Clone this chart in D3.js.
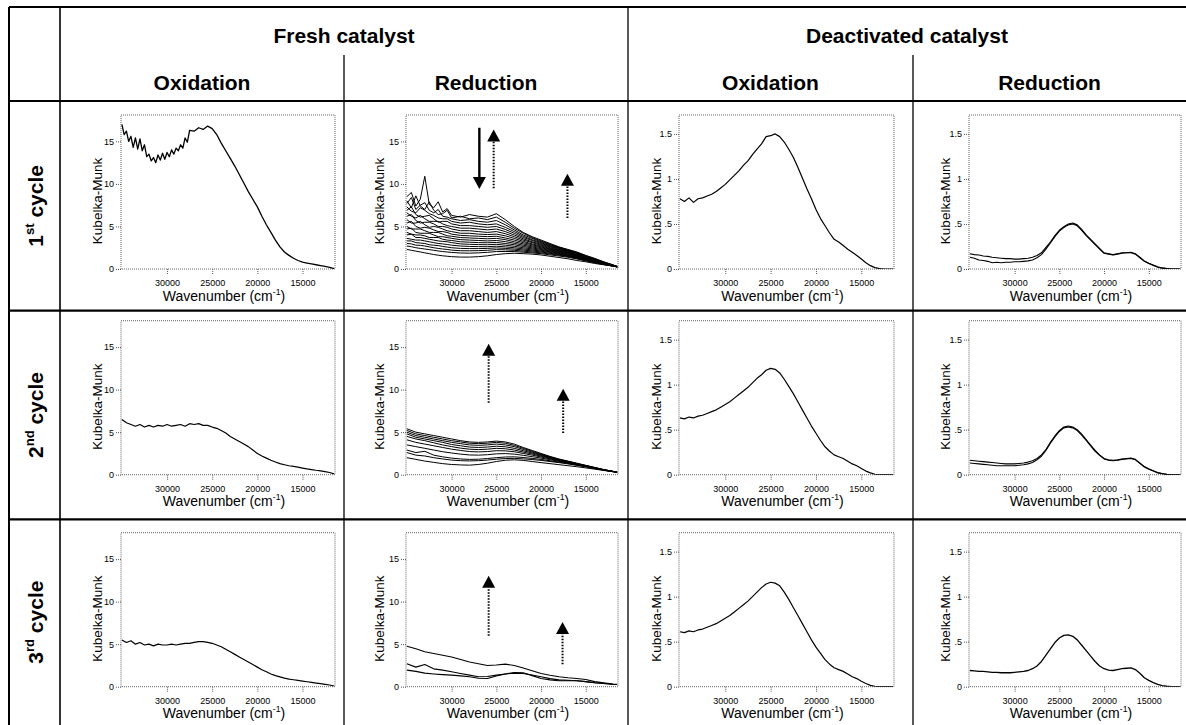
<!DOCTYPE html>
<html>
<head>
<meta charset="utf-8">
<script src="https://cdn.jsdelivr.net/npm/d3@7"></script>
<style>
  body { margin: 0; background: #fff; }
  text { font-family: Arial, "Liberation Sans", sans-serif; white-space: pre; }
</style>
</head>
<body>
<svg id="chart" width="1186" height="725"></svg>
<script>
// ---- labels ----
var groupLabels = ["Fresh catalyst", "Deactivated catalyst"];
var colLabels = ["Oxidation", "Reduction", "Oxidation", "Reduction"];
var rowLabels = [["1", "st", " cycle"], ["2", "nd", " cycle"], ["3", "rd", " cycle"]];
var kmTicksFresh = [0, 5, 10, 15];
var kmTicksDeact = [0, 0.5, 1, 1.5];
var wnTicks = [30000, 25000, 20000, 15000];

// ---- wavenumber grids (cm-1) ----
var waveFine = [35000, 34500, 34000, 33500, 33000, 32500, 32000, 31500, 31000, 30500,
  30000, 29500, 29000, 28500, 28000, 27500, 27000, 26500, 26000, 25500,
  25000, 24500, 24000, 23500, 23000, 22500, 22000, 21500, 21000, 20500,
  20000, 19500, 19000, 18500, 18000, 17500, 17000, 16500, 16000, 15500,
  15000, 14500, 14000, 13500, 13000, 12500, 12000, 11500];
var waveCoarse = [35000, 34000, 33000, 32000, 31000, 30000, 29000, 28000, 27000, 26000,
  25000, 24000, 23000, 22000, 21000, 20000, 19000, 18000, 17000, 16000,
  15000, 14000, 13000, 12000, 11500];
// finer steps where the first spectra are noisy
var waveNoisyOx = [35000, 34750, 34500, 34250, 34000, 33750, 33500, 33250, 33000, 32750,
  32500, 32250, 32000, 31750, 31500, 31250, 31000, 30750, 30500, 30250,
  30000, 29750, 29500, 29250, 29000, 28750, 28500, 28250, 28000, 27750, 27500,
  27000, 26500, 26000, 25500, 25000, 24500, 24000, 23500, 23000, 22500,
  22000, 21500, 21000, 20500, 20000, 19500, 19000, 18500, 18000, 17500,
  17000, 16500, 16000, 15500, 15000, 14500, 14000, 13500, 13000, 12500,
  12000, 11500];
var waveNoisyRed = [35000, 34500, 34000, 33500, 33000, 32500, 32000, 31500, 31000, 30500,
  30000, 29000, 28000, 27000, 26000, 25000, 24000, 23000, 22000, 21000,
  20000, 19000, 18000, 17000, 16000, 15000, 14000, 13000, 12000, 11500];

// ---- fresh catalyst, oxidation ----
var oxFresh1 = [17.0, 15.8, 16.2, 15.0, 15.6, 14.3, 15.4, 14.1, 15.3, 13.9,
  14.6, 13.2, 13.5, 12.7, 13.1, 12.5, 13.4, 12.8, 13.6, 12.9,
  13.7, 13.2, 14.0, 13.5, 14.2, 13.9, 14.6, 14.2, 15.4, 14.9, 16.3,
  16.2, 16.6, 16.4, 16.8, 16.5, 15.8, 14.8, 13.9, 13.0, 12.1,
  11.1, 10.1, 9.1, 8.2, 7.3, 6.2, 5.2, 4.3, 3.4, 2.6,
  2.0, 1.6, 1.26, 1.0, 0.8, 0.7, 0.6, 0.5, 0.4, 0.3,
  0.2, 0.05];
var oxFresh2 = [6.5, 6.1, 5.9, 5.7, 5.9, 5.6, 5.8, 5.6, 5.8, 5.7,
  5.9, 5.7, 5.8, 5.9, 5.7, 6.0, 5.9, 6.0, 5.8, 5.8,
  5.6, 5.45, 5.2, 4.9, 4.5, 4.2, 3.9, 3.6, 3.3, 2.9,
  2.5, 2.2, 1.95, 1.7, 1.5, 1.3, 1.17, 1.05, 0.97, 0.88,
  0.78, 0.68, 0.6, 0.52, 0.46, 0.36, 0.26, 0.1];
var oxFresh3 = [5.5, 5.2, 5.4, 5.0, 5.2, 4.9, 5.0, 4.8, 5.0, 4.9,
  4.9, 5.0, 4.9, 5.0, 5.1, 5.1, 5.2, 5.3, 5.3, 5.2,
  5.1, 4.9, 4.7, 4.4, 4.1, 3.8, 3.5, 3.2, 2.9, 2.6,
  2.3, 2.0, 1.75, 1.5, 1.3, 1.15, 1.0, 0.9, 0.82, 0.74,
  0.66, 0.58, 0.5, 0.43, 0.36, 0.28, 0.2, 0.08];

// ---- fresh catalyst, reduction: one array per spectrum ----
// cycle 1 on waveNoisyRed
var redFresh1 = [
  [8.5, 9.0, 7.4, 8.2, 10.9, 7.6, 7.2, 7.9, 6.7, 7.1, 6.3, 6.1, 6.4, 6.2, 6.1, 6.5, 5.8, 5.0, 4.3, 3.8, 3.4, 3.0, 2.6, 2.3, 2.0, 1.6, 1.25, 0.85, 0.5, 0.3],
  [8.0, 7.2, 8.6, 7.4, 7.0, 7.9, 6.9, 6.4, 6.5, 6.9, 6.0, 6.2, 5.9, 6.0, 5.8, 6.1, 5.5, 4.8, 4.2, 3.7, 3.3, 2.9, 2.55, 2.25, 1.95, 1.55, 1.2, 0.82, 0.48, 0.3],
  [7.7, 8.4, 7.0, 7.5, 7.8, 6.9, 6.6, 7.0, 6.2, 6.1, 5.9, 5.7, 5.8, 5.6, 5.5, 5.7, 5.2, 4.6, 4.0, 3.6, 3.2, 2.85, 2.5, 2.2, 1.9, 1.5, 1.17, 0.8, 0.47, 0.3],
  [7.3, 6.8, 6.6, 7.2, 6.9, 6.5, 6.3, 6.0, 5.9, 5.9, 5.6, 5.4, 5.5, 5.3, 5.2, 5.3, 4.9, 4.4, 3.85, 3.45, 3.1, 2.75, 2.45, 2.15, 1.85, 1.47, 1.13, 0.78, 0.46, 0.29],
  [6.9, 7.3, 6.4, 6.1, 6.2, 6.3, 5.9, 5.5, 5.6, 5.6, 5.3, 5.1, 5.1, 5.0, 4.9, 5.0, 4.65, 4.2, 3.7, 3.35, 3.0, 2.68, 2.38, 2.1, 1.8, 1.43, 1.1, 0.76, 0.45, 0.29],
  [6.6, 6.2, 6.0, 6.3, 5.9, 5.6, 5.6, 5.6, 5.3, 5.1, 5.0, 4.8, 4.8, 4.7, 4.6, 4.7, 4.4, 4.0, 3.55, 3.2, 2.9, 2.6, 2.3, 2.05, 1.75, 1.4, 1.07, 0.74, 0.44, 0.28],
  [6.2, 6.4, 5.7, 5.4, 5.5, 5.5, 5.3, 5.0, 5.0, 4.9, 4.7, 4.5, 4.5, 4.4, 4.3, 4.4, 4.15, 3.8, 3.4, 3.1, 2.8, 2.5, 2.23, 2.0, 1.7, 1.36, 1.04, 0.72, 0.43, 0.28],
  [5.8, 5.4, 5.4, 5.6, 5.2, 4.9, 5.0, 4.9, 4.7, 4.5, 4.4, 4.2, 4.2, 4.1, 4.05, 4.1, 3.9, 3.6, 3.25, 2.95, 2.7, 2.42, 2.16, 1.94, 1.65, 1.32, 1.01, 0.7, 0.42, 0.27],
  [5.4, 5.6, 5.0, 4.8, 4.9, 4.8, 4.6, 4.4, 4.4, 4.3, 4.1, 3.95, 3.9, 3.85, 3.8, 3.85, 3.65, 3.4, 3.1, 2.85, 2.6, 2.34, 2.1, 1.88, 1.6, 1.28, 0.98, 0.68, 0.41, 0.27],
  [5.0, 4.7, 4.7, 4.7, 4.5, 4.3, 4.3, 4.3, 4.1, 3.9, 3.85, 3.7, 3.65, 3.6, 3.55, 3.6, 3.45, 3.2, 2.95, 2.72, 2.5, 2.26, 2.03, 1.82, 1.55, 1.24, 0.95, 0.66, 0.4, 0.27],
  [4.7, 4.8, 4.3, 4.2, 4.2, 4.2, 4.0, 3.8, 3.8, 3.7, 3.6, 3.45, 3.4, 3.35, 3.3, 3.35, 3.22, 3.02, 2.8, 2.6, 2.4, 2.18, 1.96, 1.76, 1.5, 1.2, 0.92, 0.64, 0.39, 0.26],
  [4.3, 4.1, 4.0, 4.0, 3.9, 3.7, 3.7, 3.7, 3.5, 3.4, 3.35, 3.2, 3.15, 3.1, 3.08, 3.12, 3.0, 2.85, 2.65, 2.48, 2.3, 2.1, 1.9, 1.7, 1.45, 1.16, 0.89, 0.62, 0.38, 0.26],
  [4.0, 4.1, 3.7, 3.7, 3.6, 3.5, 3.4, 3.3, 3.25, 3.2, 3.1, 2.95, 2.9, 2.87, 2.85, 2.9, 2.8, 2.67, 2.5, 2.36, 2.2, 2.02, 1.83, 1.64, 1.4, 1.12, 0.86, 0.6, 0.37, 0.26],
  [3.6, 3.5, 3.4, 3.4, 3.3, 3.2, 3.1, 3.0, 2.95, 2.88, 2.8, 2.7, 2.65, 2.63, 2.62, 2.68, 2.6, 2.5, 2.36, 2.24, 2.1, 1.94, 1.76, 1.58, 1.35, 1.08, 0.83, 0.58, 0.36, 0.25],
  [3.3, 3.3, 3.1, 3.05, 3.0, 2.85, 2.8, 2.75, 2.65, 2.58, 2.5, 2.42, 2.4, 2.4, 2.42, 2.48, 2.42, 2.34, 2.23, 2.12, 2.0, 1.85, 1.69, 1.52, 1.3, 1.04, 0.8, 0.56, 0.36, 0.25],
  [3.0, 2.95, 2.8, 2.78, 2.7, 2.6, 2.5, 2.42, 2.35, 2.3, 2.22, 2.15, 2.14, 2.16, 2.2, 2.28, 2.25, 2.2, 2.1, 2.0, 1.9, 1.76, 1.62, 1.46, 1.25, 1.0, 0.77, 0.54, 0.35, 0.25],
  [2.7, 2.62, 2.5, 2.42, 2.35, 2.28, 2.2, 2.12, 2.05, 2.0, 1.95, 1.88, 1.86, 1.9, 1.96, 2.05, 2.06, 2.05, 1.97, 1.89, 1.8, 1.66, 1.53, 1.38, 1.18, 0.95, 0.73, 0.52, 0.35, 0.25],
  [2.3, 2.2, 2.1, 2.0, 1.9, 1.8, 1.7, 1.62, 1.55, 1.5, 1.45, 1.4, 1.4, 1.45, 1.55, 1.7, 1.8, 1.85, 1.8, 1.75, 1.65, 1.5, 1.35, 1.2, 1.0, 0.85, 0.65, 0.5, 0.35, 0.25]
];
// cycles 2 and 3 on waveCoarse
var redFresh2 = [
  [5.4, 5.0, 4.8, 4.6, 4.4, 4.2, 4.0, 3.85, 3.8, 3.85, 3.95, 3.85, 3.6, 3.2, 2.85, 2.5, 2.15, 1.85, 1.6, 1.35, 1.1, 0.85, 0.6, 0.4, 0.3],
  [5.2, 4.8, 4.6, 4.4, 4.2, 4.0, 3.85, 3.7, 3.65, 3.7, 3.8, 3.7, 3.45, 3.1, 2.75, 2.42, 2.1, 1.8, 1.57, 1.32, 1.08, 0.84, 0.6, 0.4, 0.3],
  [5.0, 4.6, 4.4, 4.2, 4.0, 3.8, 3.65, 3.5, 3.45, 3.5, 3.6, 3.5, 3.3, 2.97, 2.65, 2.35, 2.05, 1.76, 1.54, 1.3, 1.06, 0.82, 0.59, 0.39, 0.3],
  [4.8, 4.4, 4.2, 4.0, 3.8, 3.55, 3.4, 3.25, 3.2, 3.25, 3.35, 3.28, 3.1, 2.82, 2.55, 2.27, 2.0, 1.72, 1.5, 1.27, 1.04, 0.8, 0.58, 0.39, 0.3],
  [4.5, 4.2, 4.0, 3.75, 3.5, 3.3, 3.12, 3.0, 2.95, 3.0, 3.1, 3.05, 2.9, 2.66, 2.43, 2.18, 1.93, 1.68, 1.47, 1.24, 1.02, 0.79, 0.57, 0.38, 0.3],
  [4.1, 3.8, 3.6, 3.4, 3.2, 3.0, 2.85, 2.72, 2.68, 2.72, 2.82, 2.8, 2.7, 2.5, 2.3, 2.08, 1.86, 1.63, 1.43, 1.21, 1.0, 0.78, 0.56, 0.38, 0.3],
  [3.5, 3.3, 3.1, 2.9, 2.7, 2.55, 2.42, 2.32, 2.3, 2.35, 2.45, 2.48, 2.42, 2.28, 2.12, 1.95, 1.76, 1.56, 1.38, 1.17, 0.97, 0.76, 0.55, 0.37, 0.3],
  [2.9, 2.6, 2.75, 2.3, 2.1, 1.95, 1.85, 1.8, 1.82, 1.9, 2.0, 2.08, 2.1, 2.02, 1.92, 1.8, 1.64, 1.48, 1.32, 1.13, 0.94, 0.74, 0.54, 0.37, 0.3],
  [2.6, 2.3, 2.2, 2.0, 1.85, 1.72, 1.65, 1.62, 1.65, 1.72, 1.82, 1.9, 1.92, 1.86, 1.78, 1.68, 1.55, 1.42, 1.27, 1.1, 0.92, 0.73, 0.53, 0.36, 0.3],
  [2.0, 1.8, 1.6, 1.45, 1.3, 1.2, 1.15, 1.12, 1.2, 1.35, 1.55, 1.7, 1.75, 1.68, 1.55, 1.42, 1.3, 1.18, 1.06, 0.94, 0.8, 0.65, 0.5, 0.35, 0.3]
];
var redFresh3 = [
  [4.75, 4.45, 4.1, 3.9, 3.7, 3.5, 3.2, 2.9, 2.7, 2.5, 2.55, 2.65, 2.5, 2.2, 1.87, 1.56, 1.35, 1.17, 1.05, 0.97, 0.85, 0.6, 0.45, 0.32, 0.28],
  [2.7, 2.3, 2.6, 2.1, 1.95, 1.75, 1.55, 1.36, 1.17, 1.2, 1.36, 1.5, 1.6, 1.56, 1.38, 1.17, 0.95, 0.8, 0.75, 0.7, 0.6, 0.47, 0.38, 0.28, 0.25],
  [1.95, 1.8, 1.6, 1.5, 1.42, 1.36, 1.27, 1.17, 1.0, 0.97, 1.25, 1.5, 1.67, 1.63, 1.3, 0.97, 0.8, 0.7, 0.7, 0.7, 0.6, 0.47, 0.38, 0.28, 0.25]
];

// ---- deactivated catalyst (on waveFine) ----
var oxDeact1 = [0.78, 0.75, 0.79, 0.74, 0.78, 0.79, 0.81, 0.83, 0.86, 0.9,
  0.94, 0.99, 1.04, 1.09, 1.15, 1.2, 1.27, 1.33, 1.39, 1.47,
  1.48, 1.5, 1.47, 1.41, 1.33, 1.24, 1.13, 1.01, 0.89, 0.78,
  0.66, 0.56, 0.48, 0.4, 0.33, 0.3, 0.26, 0.22, 0.185, 0.15,
  0.11, 0.07, 0.037, 0.015, 0.005, 0, 0, 0];
var oxDeact2 = [0.63, 0.62, 0.64, 0.63, 0.65, 0.66, 0.68, 0.7, 0.72, 0.75,
  0.78, 0.81, 0.85, 0.89, 0.93, 0.97, 1.02, 1.07, 1.11, 1.16,
  1.18, 1.17, 1.13, 1.06, 0.98, 0.9, 0.81, 0.72, 0.63, 0.54,
  0.46, 0.38, 0.31, 0.26, 0.22, 0.2, 0.18, 0.15, 0.12, 0.1,
  0.07, 0.04, 0.02, 0.005, 0, 0, 0, 0];
var oxDeact3 = [0.61, 0.6, 0.62, 0.61, 0.63, 0.64, 0.66, 0.68, 0.7, 0.73,
  0.76, 0.79, 0.83, 0.87, 0.91, 0.95, 1.0, 1.05, 1.1, 1.14,
  1.16, 1.15, 1.12, 1.05, 0.97, 0.88, 0.79, 0.7, 0.61, 0.52,
  0.44, 0.37, 0.3, 0.25, 0.21, 0.19, 0.17, 0.14, 0.11, 0.09,
  0.06, 0.035, 0.015, 0.005, 0, 0, 0, 0];
var redDeact1 = [
  [0.17, 0.16, 0.155, 0.145, 0.14, 0.13, 0.125, 0.12, 0.115, 0.115,
   0.11, 0.11, 0.115, 0.12, 0.13, 0.15, 0.18, 0.24, 0.3, 0.37,
   0.43, 0.47, 0.5, 0.51, 0.49, 0.44, 0.38, 0.33, 0.28, 0.23,
   0.18, 0.17, 0.16, 0.17, 0.18, 0.18, 0.185, 0.17, 0.13, 0.09,
   0.065, 0.045, 0.025, 0.012, 0.005, 0, 0, 0],
  [0.13, 0.12, 0.1, 0.095, 0.085, 0.07, 0.075, 0.07, 0.075, 0.075,
   0.08, 0.08, 0.085, 0.09, 0.1, 0.125, 0.16, 0.22, 0.29, 0.36,
   0.42, 0.46, 0.49, 0.5, 0.48, 0.43, 0.37, 0.32, 0.27, 0.22,
   0.175, 0.165, 0.155, 0.165, 0.175, 0.18, 0.18, 0.165, 0.125, 0.085,
   0.06, 0.04, 0.02, 0.01, 0.004, 0, 0, 0]
];
var redDeact2 = [
  [0.16, 0.155, 0.15, 0.145, 0.14, 0.135, 0.13, 0.125, 0.12, 0.12,
   0.12, 0.125, 0.13, 0.14, 0.155, 0.18, 0.22, 0.28, 0.36, 0.43,
   0.49, 0.53, 0.54, 0.53, 0.5, 0.45, 0.39, 0.33, 0.27, 0.22,
   0.18, 0.165, 0.16, 0.165, 0.175, 0.18, 0.185, 0.17, 0.13, 0.09,
   0.065, 0.045, 0.025, 0.012, 0.005, 0, 0, 0],
  [0.13, 0.125, 0.12, 0.115, 0.11, 0.105, 0.1, 0.1, 0.1, 0.1,
   0.1, 0.105, 0.11, 0.12, 0.135, 0.165, 0.205, 0.27, 0.35, 0.42,
   0.48, 0.52, 0.53, 0.52, 0.49, 0.44, 0.38, 0.32, 0.26, 0.215,
   0.175, 0.16, 0.155, 0.16, 0.17, 0.175, 0.18, 0.165, 0.125, 0.085,
   0.06, 0.04, 0.02, 0.01, 0.004, 0, 0, 0]
];
var redDeact3 = [
  [0.18, 0.175, 0.17, 0.17, 0.165, 0.16, 0.16, 0.155, 0.155, 0.155,
   0.16, 0.165, 0.17, 0.18, 0.2, 0.23, 0.28, 0.35, 0.42, 0.49,
   0.54, 0.57, 0.575, 0.56, 0.52, 0.46, 0.4, 0.34, 0.28, 0.23,
   0.2, 0.185, 0.18, 0.19, 0.2, 0.205, 0.21, 0.19, 0.15, 0.1,
   0.07, 0.045, 0.025, 0.012, 0.005, 0, 0, 0]
];

// arrows drawn in the reduction panels: [wavenumber, from K-M, to K-M, dotted]
var arrowsRed1 = [[26900, 16.6, 9.4, false], [25300, 9.5, 16.4, true], [17050, 6.0, 11.2, true]];
var arrowsRed2 = [[25860, 8.45, 15.4, true], [17530, 4.9, 10.1, true]];
var arrowsRed3 = [[25860, 6.0, 13.05, true], [17600, 2.65, 7.6, true]];

// ---- layout ----
var svg = d3.select("#chart");
var W = 1186, H = 725;
var colX = [9, 60, 344, 628, 913, W];
var rowY = [7, 101, 310.7, 519.3, H];
var plotLeft = [121, 406, 679, 969];
var plotWidth = [214, 212, 215, 212];
var plotTop = [115, 320.7, 532.7];
var plotH = 154;
var ylabOffset = [-19.5, -22, -18, -19];
var wnDomain = [35100, 11400];

// table lines
var grid = svg.append("g").attr("stroke", "#000").attr("fill", "none");
function seg(x1, y1, x2, y2, w) {
    grid.append("line").attr("x1", x1).attr("y1", y1).attr("x2", x2).attr("y2", y2)
        .attr("stroke-width", w);
}
seg(colX[0], rowY[0], W, rowY[0], 2);
seg(colX[0], rowY[0], colX[0], H, 2);
seg(colX[1], rowY[0], colX[1], H, 1.6);
seg(colX[3], rowY[0], colX[3], H, 1.3);
seg(colX[2], 55, colX[2], H, 1.3);
seg(colX[4], 55, colX[4], H, 1.3);
[rowY[1], rowY[2], rowY[3]].forEach(function (y) { seg(colX[0], y, W, y, 2.2); });

// headers
svg.append("text").attr("x", (colX[1] + colX[3]) / 2).attr("y", 42.5)
    .attr("text-anchor", "middle").attr("font-weight", "bold").attr("font-size", 21)
    .text(groupLabels[0]);
svg.append("text").attr("x", (colX[3] + colX[5]) / 2).attr("y", 42.5)
    .attr("text-anchor", "middle").attr("font-weight", "bold").attr("font-size", 21)
    .text(groupLabels[1]);
colLabels.forEach(function (t, i) {
    svg.append("text").attr("x", (colX[i + 1] + colX[i + 2]) / 2).attr("y", 89.5)
        .attr("text-anchor", "middle").attr("font-weight", "bold").attr("font-size", 21)
        .text(t);
});

function supText(sel, base, sup, rest, size) {
    sel.append("tspan").text(base);
    sel.append("tspan").text(sup).attr("font-size", size * 0.62).attr("dy", -size * 0.42);
    sel.append("tspan").text(rest).attr("dy", size * 0.42);
}

rowLabels.forEach(function (r, i) {
    var cy = (rowY[i + 1] + rowY[i + 2]) / 2;
    var t = svg.append("text")
        .attr("transform", "translate(43," + cy + ") rotate(-90)")
        .attr("text-anchor", "middle").attr("font-weight", "bold").attr("font-size", 21);
    supText(t, r[0], r[1], r[2], 21);
});

// ---- panels ----
function kmFormat(d) { return String(d).replace(/^0\./, "."); }

var panels = [
    { row: 0, col: 0, yMax: 18.1, ticks: kmTicksFresh, wave: waveNoisyOx, series: [oxFresh1], sw: 1.3 },
    { row: 0, col: 1, yMax: 18.1, ticks: kmTicksFresh, wave: waveNoisyRed, series: redFresh1, sw: 1, arrows: arrowsRed1 },
    { row: 0, col: 2, yMax: 1.71, ticks: kmTicksDeact, wave: waveFine, series: [oxDeact1], sw: 1.2 },
    { row: 0, col: 3, yMax: 1.71, ticks: kmTicksDeact, wave: waveFine, series: redDeact1, sw: 1.1 },
    { row: 1, col: 0, yMax: 18.1, ticks: kmTicksFresh, wave: waveFine, series: [oxFresh2], sw: 1.2 },
    { row: 1, col: 1, yMax: 18.1, ticks: kmTicksFresh, wave: waveCoarse, series: redFresh2, sw: 1, arrows: arrowsRed2 },
    { row: 1, col: 2, yMax: 1.71, ticks: kmTicksDeact, wave: waveFine, series: [oxDeact2], sw: 1.2 },
    { row: 1, col: 3, yMax: 1.71, ticks: kmTicksDeact, wave: waveFine, series: redDeact2, sw: 1.1 },
    { row: 2, col: 0, yMax: 18.1, ticks: kmTicksFresh, wave: waveFine, series: [oxFresh3], sw: 1.2 },
    { row: 2, col: 1, yMax: 18.1, ticks: kmTicksFresh, wave: waveCoarse, series: redFresh3, sw: 1.1, arrows: arrowsRed3 },
    { row: 2, col: 2, yMax: 1.71, ticks: kmTicksDeact, wave: waveFine, series: [oxDeact3], sw: 1.2 },
    { row: 2, col: 3, yMax: 1.71, ticks: kmTicksDeact, wave: waveFine, series: redDeact3, sw: 1.3 }
];

panels.forEach(function (p, k) {
    var w = plotWidth[p.col];
    var x = d3.scaleLinear().domain(wnDomain).range([0, w]);
    var y = d3.scaleLinear().domain([0, p.yMax]).range([plotH, 0]);
    var g = svg.append("g")
        .attr("transform", "translate(" + plotLeft[p.col] + "," + plotTop[p.row] + ")");

    g.append("clipPath").attr("id", "clip" + k)
        .append("rect").attr("width", w).attr("height", plotH);

    // y axis
    var ya = g.append("g").call(d3.axisLeft(y).tickValues(p.ticks).tickSize(5)
        .tickPadding(2).tickFormat(kmFormat));
    // x axis
    var xa = g.append("g").attr("transform", "translate(0," + plotH + ")")
        .call(d3.axisBottom(x).tickValues(wnTicks).tickSize(5).tickPadding(6)
            .tickFormat(d3.format("d")));
    [ya, xa].forEach(function (a) {
        a.select(".domain").remove();
        a.selectAll(".tick line").attr("stroke", "#555").attr("stroke-dasharray", "1,1");
        a.selectAll(".tick text").attr("font-size", 9).attr("fill", "#000")
            .attr("font-family", "Arial, 'Liberation Sans', sans-serif");
    });

    // dotted frame
    g.append("rect").attr("width", w).attr("height", plotH)
        .attr("fill", "none").attr("stroke", "#666").attr("stroke-width", 1)
        .attr("stroke-dasharray", "1,1");

    // spectra
    var line = d3.line()
        .x(function (d, i) { return x(p.wave[i]); })
        .y(function (d) { return y(d); });
    g.append("g").attr("clip-path", "url(#clip" + k + ")")
        .selectAll("path").data(p.series).enter().append("path")
        .attr("d", line).attr("fill", "none").attr("stroke", "#000")
        .attr("stroke-width", p.sw).attr("stroke-linejoin", "round");

    // arrows
    (p.arrows || []).forEach(function (a) {
        var ax = x(a[0]), y0 = y(a[1]), y1 = y(a[2]);
        var dir = y1 < y0 ? 1 : -1;   // 1: pointing up
        var headH = 12, headW = 13;
        var base = y1 + dir * headH;
        g.append("line").attr("x1", ax).attr("x2", ax).attr("y1", y0).attr("y2", base)
            .attr("stroke", "#000").attr("stroke-width", a[3] ? 2 : 2.4)
            .attr("stroke-dasharray", a[3] ? "1.5,1.5" : null);
        g.append("path")
            .attr("d", "M" + (ax - headW / 2) + "," + base + "L" + (ax + headW / 2) + "," + base +
                "L" + ax + "," + y1 + "Z")
            .attr("fill", "#000");
    });

    // axis titles
    g.append("text")
        .attr("transform", "translate(" + ylabOffset[p.col] + "," + (plotH / 2 + 9) + ") rotate(-90)")
        .attr("text-anchor", "middle").attr("font-size", 13.5)
        .text("Kubelka-Munk");
    var xt = g.append("text").attr("x", w / 2 - 4).attr("y", plotH + 31.5)
        .attr("text-anchor", "middle").attr("font-size", 14);
    supText(xt, "Wavenumber (cm", "-1", ")", 14);
});
</script>
</body>
</html>
